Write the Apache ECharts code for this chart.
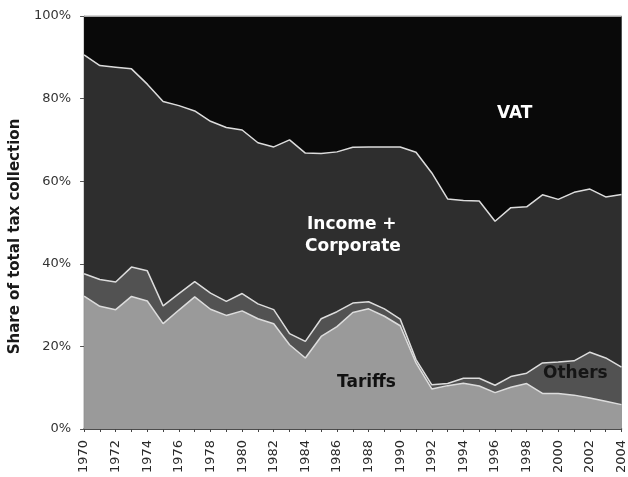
<!DOCTYPE html>
<html>
<head>
<meta charset="utf-8">
<script src="https://cdn.jsdelivr.net/npm/echarts@6/dist/echarts.min.js"></script>
<style>
  html, body { margin: 0; padding: 0; background: #fff; }
  #chart { width: 628px; height: 477px; }
</style>
</head>
<body>
<div id="chart"></div>
<script>
// Composition of tax revenue, share of total collection (%), 1970-2004
var years = [];
for (var y = 1970; y <= 2004; y++) years.push(String(y));

var tariffs = [32.2, 29.7, 28.9, 32.1, 31.0, 25.5, 28.8, 32.0, 29.0, 27.5,
               28.6, 26.7, 25.5, 20.4, 17.2, 22.4, 24.8, 28.2, 29.1, 27.3,
               25.0, 16.0, 9.7, 10.5, 11.1, 10.4, 8.8, 10.1, 11.0, 8.6,
               8.6, 8.2, 7.5, 6.7, 5.9];

var others = [5.4, 6.5, 6.7, 7.1, 7.3, 4.3, 4.0, 3.7, 3.9, 3.4,
              4.2, 3.6, 3.4, 2.7, 4.0, 4.3, 3.6, 2.3, 1.7, 1.8,
              1.6, 0.8, 1.0, 0.5, 1.2, 1.9, 1.8, 2.6, 2.5, 7.4,
              7.6, 8.3, 11.1, 10.5, 9.1];

var incomeCorporate = [53.0, 51.8, 52.0, 48.0, 45.2, 49.5, 45.5, 41.3, 41.6, 42.1,
                       39.6, 39.0, 39.4, 46.9, 45.6, 40.0, 38.7, 37.7, 37.5, 39.2,
                       41.7, 50.2, 51.3, 44.7, 43.0, 42.9, 39.7, 40.9, 40.3, 40.7,
                       39.4, 40.8, 39.5, 39.0, 41.8];

var vat = [9.4, 12.0, 12.4, 12.8, 16.5, 20.7, 21.7, 23.0, 25.5, 27.0,
           27.6, 30.7, 31.7, 30.0, 33.2, 33.3, 32.9, 31.8, 31.7, 31.7,
           31.7, 33.0, 38.0, 44.3, 44.7, 44.8, 49.7, 46.4, 46.2, 43.3,
           44.4, 42.7, 41.9, 43.8, 43.2];

var yTicks = [0, 20, 40, 60, 80, 100];

var FONT = 'DejaVu Sans';
var LABEL_FONT = 'bold 17px "DejaVu Sans"';

function layer(name, data, color) {
  return {
    name: name,
    type: 'line',
    stack: 'total',
    data: data,
    symbol: 'none',
    smooth: false,
    lineStyle: { color: '#dcdcdc', width: 1.5 },
    areaStyle: { color: color, opacity: 1 },
    emphasis: { disabled: true },
    z: 2
  };
}

function areaLabel(text, left, top, fill) {
  return { type: 'text', left: left, top: top, z: 10,
           style: { text: text, fill: fill, font: LABEL_FONT } };
}

var chart = echarts.init(document.getElementById('chart'), null, { renderer: 'canvas' });

chart.setOption({
  animation: false,
  backgroundColor: '#ffffff',
  grid: { left: 81, right: 5, top: 16, bottom: 48, show: true, borderColor: '#9a9a9a', borderWidth: 1, backgroundColor: 'transparent' },
  xAxis: {
    type: 'category',
    data: years,
    boundaryGap: false,
    axisLine: { show: true, lineStyle: { color: '#222', width: 1.5 } },
    axisTick: { show: true, interval: 0, length: 3, lineStyle: { color: '#444' } },
    axisLabel: {
      interval: 1,
      rotate: 90,
      fontFamily: FONT,
      fontSize: 13,
      color: '#2a2a2a',
      margin: 11
    },
    splitLine: { show: false }
  },
  yAxis: {
    type: 'value',
    min: 0,
    max: 100,
    interval: 20,
    name: 'Share of total tax collection',
    nameLocation: 'middle',
    nameGap: 56,
    nameTextStyle: { fontFamily: FONT, fontSize: 15, fontWeight: 'bold', color: '#1a1a1a', padding: [0, 28, 0, 0] },
    axisLine: { show: true, lineStyle: { color: '#555', width: 1 } },
    axisTick: { show: true, length: 4, lineStyle: { color: '#555' } },
    axisLabel: {
      fontFamily: FONT,
      fontSize: 13,
      color: '#333',
      margin: 13,
      formatter: function (v) { return yTicks.indexOf(v) >= 0 ? v + '%' : ''; }
    },
    splitLine: { show: false }
  },
  series: [
    layer('Tariffs', tariffs, '#9a9a9a'),
    layer('Others', others, '#525252'),
    layer('Income + Corporate', incomeCorporate, '#2e2e2e'),
    layer('VAT', vat, '#090909')
  ],
  graphic: [
    areaLabel('VAT', 497, 105, '#ffffff'),
    areaLabel('Income +', 307, 216, '#ffffff'),
    areaLabel('Corporate', 305, 238, '#ffffff'),
    areaLabel('Tariffs', 337, 374, '#111111'),
    areaLabel('Others', 543, 365, '#151515')
  ]
});
</script>
</body>
</html>
